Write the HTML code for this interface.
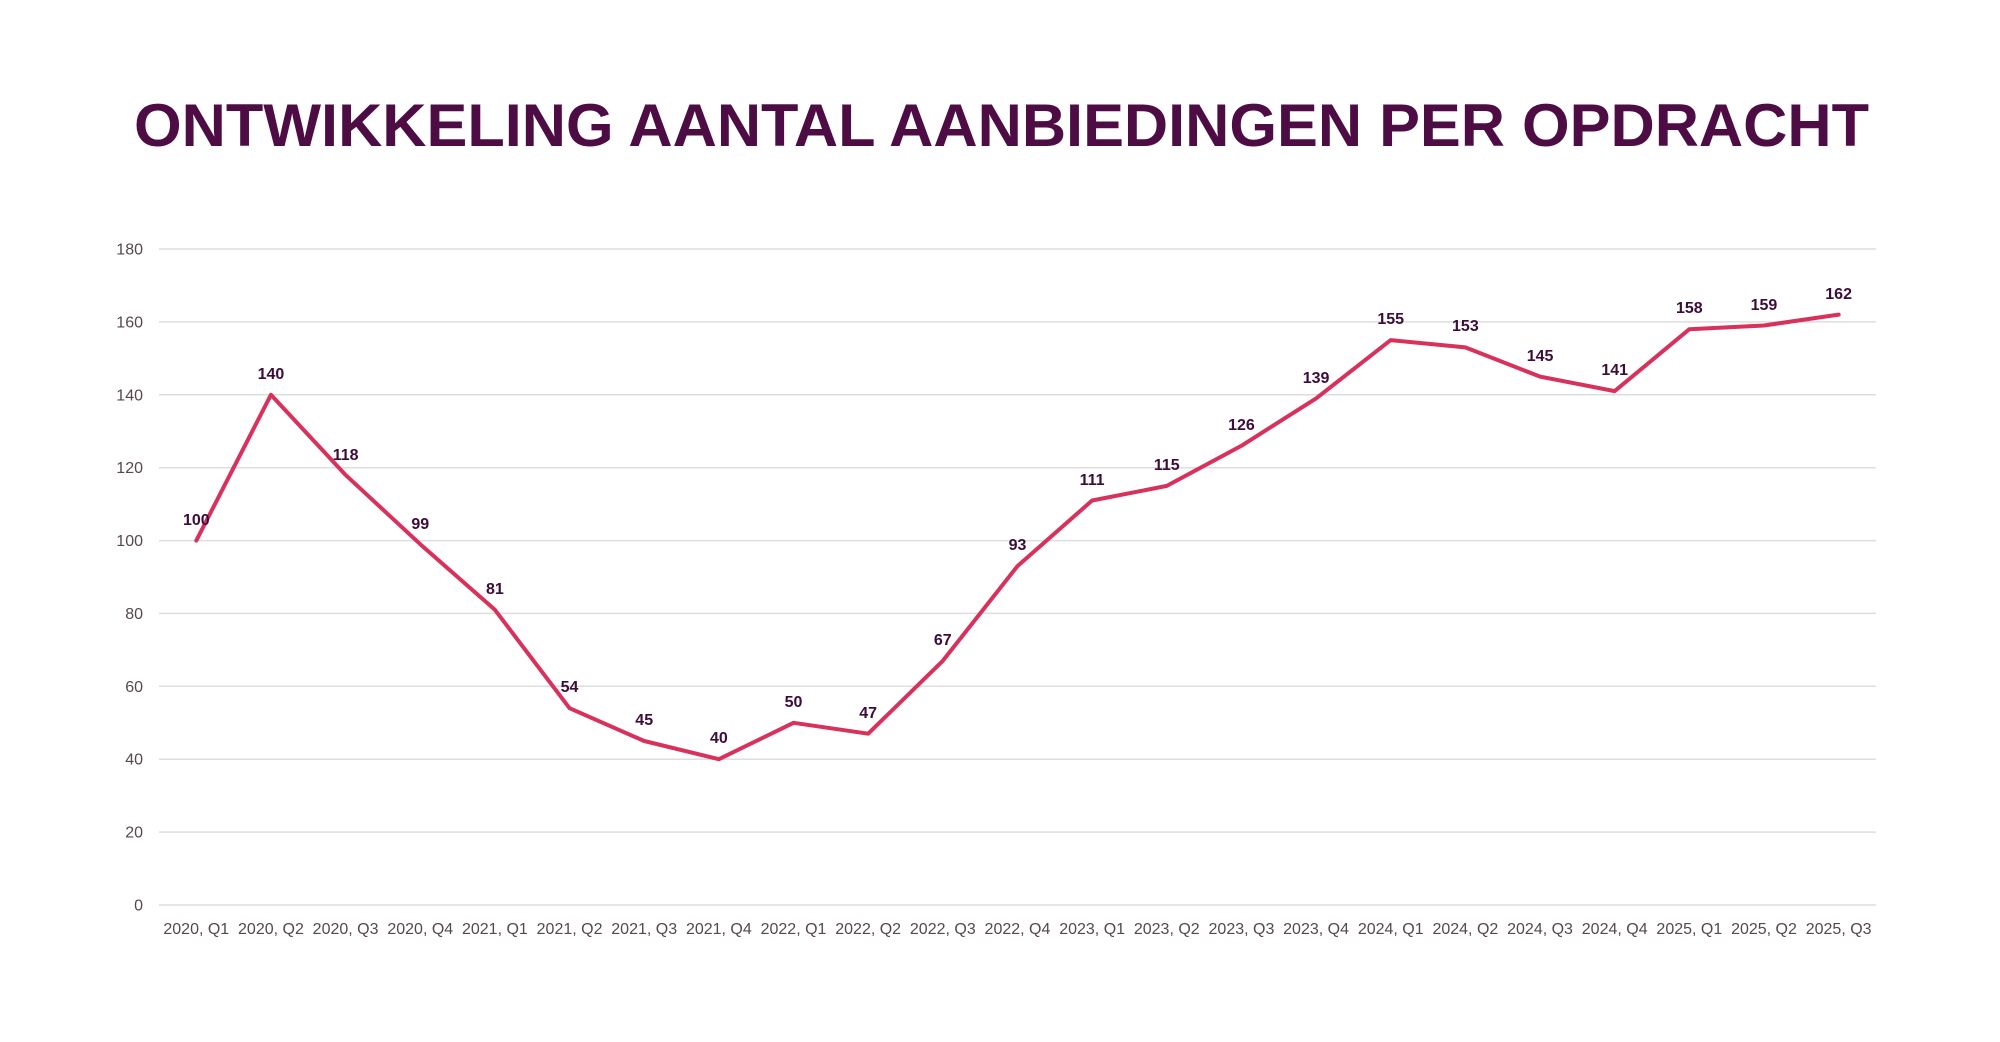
<!DOCTYPE html>
<html>
<head>
<meta charset="utf-8">
<style>
  html, body { margin: 0; padding: 0; background: #ffffff; }
  body { width: 2000px; height: 1042px; overflow: hidden; }
  svg { display: block; }
  .title { font-family: "Liberation Sans", sans-serif; font-weight: bold; font-size: 60px; fill: #4e0c45; }
  .yl { font-family: "Liberation Sans", sans-serif; font-size: 16px; fill: #57474f; text-anchor: end; }
  .xl { font-family: "Liberation Sans", sans-serif; font-size: 16px; fill: #57474f; text-anchor: middle; }
  .dl { font-family: "Liberation Sans", sans-serif; font-size: 16px; font-weight: bold; fill: #3b0d38; text-anchor: middle; }
  .grid { stroke: #dedede; stroke-width: 1.5; }
</style>
</head>
<body>
<svg width="2000" height="1042" viewBox="0 0 2000 1042" xmlns="http://www.w3.org/2000/svg">
  <rect width="2000" height="1042" fill="#ffffff"/>
  <text class="title" x="134" y="146" textLength="1735" lengthAdjust="spacingAndGlyphs">ONTWIKKELING AANTAL AANBIEDINGEN PER OPDRACHT</text>

  <!-- gridlines -->
  <line class="grid" x1="159" x2="1876" y1="905" y2="905"/>
  <line class="grid" x1="159" x2="1876" y1="832.1" y2="832.1"/>
  <line class="grid" x1="159" x2="1876" y1="759.2" y2="759.2"/>
  <line class="grid" x1="159" x2="1876" y1="686.3" y2="686.3"/>
  <line class="grid" x1="159" x2="1876" y1="613.4" y2="613.4"/>
  <line class="grid" x1="159" x2="1876" y1="540.6" y2="540.6"/>
  <line class="grid" x1="159" x2="1876" y1="467.7" y2="467.7"/>
  <line class="grid" x1="159" x2="1876" y1="394.8" y2="394.8"/>
  <line class="grid" x1="159" x2="1876" y1="321.9" y2="321.9"/>
  <line class="grid" x1="159" x2="1876" y1="249" y2="249"/>

  <!-- y labels -->
  <text class="yl" x="143" y="910.5">0</text>
  <text class="yl" x="143" y="837.6">20</text>
  <text class="yl" x="143" y="764.7">40</text>
  <text class="yl" x="143" y="691.8">60</text>
  <text class="yl" x="143" y="618.9">80</text>
  <text class="yl" x="143" y="546.1">100</text>
  <text class="yl" x="143" y="473.2">120</text>
  <text class="yl" x="143" y="400.3">140</text>
  <text class="yl" x="143" y="327.4">160</text>
  <text class="yl" x="143" y="254.5">180</text>

  <!-- x labels -->
  <text class="xl" x="196.3" y="934">2020, Q1</text>
  <text class="xl" x="270.95" y="934">2020, Q2</text>
  <text class="xl" x="345.6" y="934">2020, Q3</text>
  <text class="xl" x="420.26" y="934">2020, Q4</text>
  <text class="xl" x="494.91" y="934">2021, Q1</text>
  <text class="xl" x="569.56" y="934">2021, Q2</text>
  <text class="xl" x="644.21" y="934">2021, Q3</text>
  <text class="xl" x="718.86" y="934">2021, Q4</text>
  <text class="xl" x="793.52" y="934">2022, Q1</text>
  <text class="xl" x="868.17" y="934">2022, Q2</text>
  <text class="xl" x="942.82" y="934">2022, Q3</text>
  <text class="xl" x="1017.47" y="934">2022, Q4</text>
  <text class="xl" x="1092.12" y="934">2023, Q1</text>
  <text class="xl" x="1166.78" y="934">2023, Q2</text>
  <text class="xl" x="1241.43" y="934">2023, Q3</text>
  <text class="xl" x="1316.08" y="934">2023, Q4</text>
  <text class="xl" x="1390.73" y="934">2024, Q1</text>
  <text class="xl" x="1465.38" y="934">2024, Q2</text>
  <text class="xl" x="1540.04" y="934">2024, Q3</text>
  <text class="xl" x="1614.69" y="934">2024, Q4</text>
  <text class="xl" x="1689.34" y="934">2025, Q1</text>
  <text class="xl" x="1763.99" y="934">2025, Q2</text>
  <text class="xl" x="1838.64" y="934">2025, Q3</text>

  <!-- series line -->
  <polyline fill="none" stroke="#d8315b" stroke-width="4" stroke-linejoin="round" stroke-linecap="round"
    points="196.3,540.56 270.95,394.78 345.6,474.96 420.26,544.2 494.91,609.8 569.56,708.2 644.21,741.0 718.86,759.2 793.52,722.8 868.17,733.7 942.82,660.8 1017.47,566.1 1092.12,500.5 1166.78,485.9 1241.43,445.8 1316.08,398.4 1390.73,340.1 1465.38,347.4 1540.04,376.6 1614.69,391.1 1689.34,329.2 1763.99,325.5 1838.64,314.6"/>

  <!-- data labels -->
  <text class="dl" x="196.3" y="525">100</text>
  <text class="dl" x="270.95" y="379">140</text>
  <text class="dl" x="345.6" y="460">118</text>
  <text class="dl" x="420.26" y="529">99</text>
  <text class="dl" x="494.91" y="594">81</text>
  <text class="dl" x="569.56" y="692">54</text>
  <text class="dl" x="644.21" y="725">45</text>
  <text class="dl" x="718.86" y="743">40</text>
  <text class="dl" x="793.52" y="707">50</text>
  <text class="dl" x="868.17" y="718">47</text>
  <text class="dl" x="942.82" y="645">67</text>
  <text class="dl" x="1017.47" y="550">93</text>
  <text class="dl" x="1092.12" y="485">111</text>
  <text class="dl" x="1166.78" y="470">115</text>
  <text class="dl" x="1241.43" y="430">126</text>
  <text class="dl" x="1316.08" y="383">139</text>
  <text class="dl" x="1390.73" y="324">155</text>
  <text class="dl" x="1465.38" y="331">153</text>
  <text class="dl" x="1540.04" y="361">145</text>
  <text class="dl" x="1614.69" y="375">141</text>
  <text class="dl" x="1689.34" y="313">158</text>
  <text class="dl" x="1763.99" y="310">159</text>
  <text class="dl" x="1838.64" y="299">162</text>
</svg>
</body>
</html>
